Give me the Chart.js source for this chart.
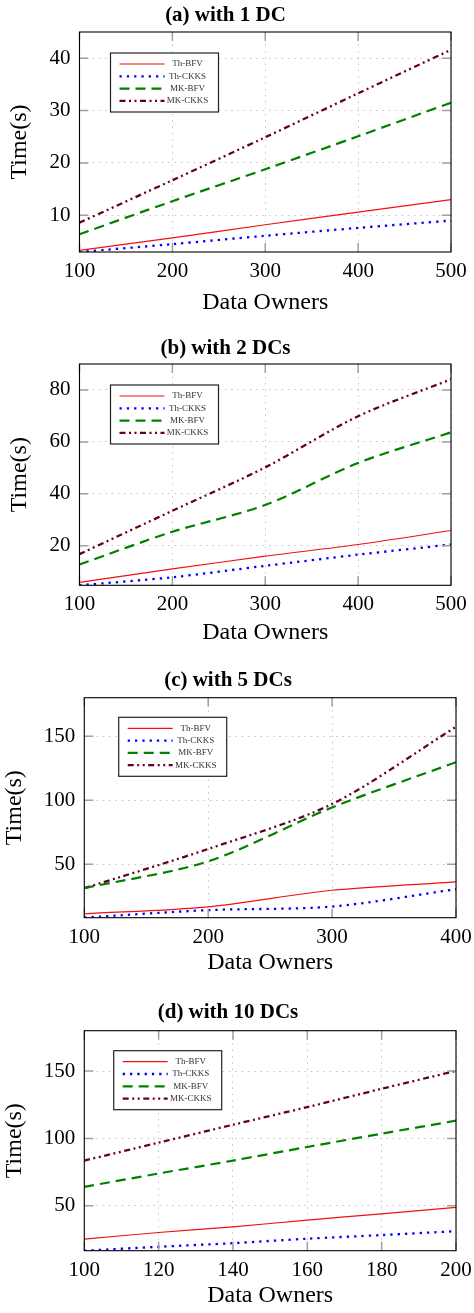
<!DOCTYPE html>
<html>
<head>
<meta charset="utf-8">
<script src="https://cdn.jsdelivr.net/npm/chart.js@4.4.0/dist/chart.umd.min.js"></script>
<style>
  body { margin: 0; background: #fff; }
  .panel { position: absolute; left: 0; width: 474px; }
</style>
</head>
<body>
<div class="panel" style="top:0"><canvas id="chartA" width="474" height="320"></canvas></div>
<div class="panel" style="top:320px"><canvas id="chartB" width="474" height="330"></canvas></div>
<div class="panel" style="top:650px"><canvas id="chartC" width="474" height="330"></canvas></div>
<div class="panel" style="top:980px"><canvas id="chartD" width="474" height="333"></canvas></div>
<script>
// series names
const seriesNames = ["Th-BFV", "Th-CKKS", "MK-BFV", "MK-CKKS"];

// (a) with 1 DC
const ownersA = [100, 200, 300, 400, 500];
const thBfvA = [3.3, 5.7, 8.2, 10.6, 13.0];
const thCkksA = [3.0, 4.5, 6.1, 7.6, 9.0];
const mkBfvA = [6.4, 12.7, 18.8, 25.1, 31.5];
const mkCkksA = [8.6, 16.7, 24.9, 33.3, 41.6];
const yRangeA = [3, 45];

// (b) with 2 DCs
const ownersB = [100, 200, 300, 400, 500];
const thBfvB = [5.9, 11.1, 16.0, 20.5, 25.9];
const thCkksB = [4.8, 7.9, 12.3, 16.6, 20.5];
const mkBfvB = [12.8, 25.4, 35.7, 51.9, 63.7];
const mkCkksB = [16.8, 33.5, 50.2, 69.9, 84.1];
const yRangeB = [4.8, 90];

// (c) with 5 DCs
const ownersC = [100, 200, 300, 400];
const thBfvC = [11.4, 16.9, 29.8, 36.3];
const thCkksC = [8.5, 14.3, 17.1, 30.6];
const mkBfvC = [31.4, 52.4, 94.4, 129.7];
const mkCkksC = [31.4, 62.0, 97.1, 157.3];
const yRangeC = [8.4, 180];

// (d) with 10 DCs
const ownersD = [100, 120, 140, 160, 180, 200];
const thBfvD = [25.3, 30.2, 34.4, 39.4, 44.1, 48.8];
const thCkksD = [16.7, 19.6, 22.3, 25.6, 28.3, 31.2];
const mkBfvD = [64.1, 74.0, 83.6, 93.7, 103.6, 113.2];
const mkCkksD = [83.6, 96.9, 110.2, 123.3, 136.9, 150.2];
const yRangeD = [16.7, 180];

// line look for each series
const lineStyles = [
  { color: "#ee1111", width: 1.2, dash: [] },
  { color: "#0000ff", width: 2.3, dash: [2.3, 5] },
  { color: "#008000", width: 2.2, dash: [10, 6] },
  { color: "#660022", width: 2.3, dash: [6, 3.5, 2, 3.5, 2, 3.5] },
];

const SERIF = '"Liberation Serif", "DejaVu Serif", serif';
Chart.defaults.font.family = SERIF;
Chart.defaults.color = "#000";

// box + inside tick marks like pgfplots
const framePlugin = {
  id: "frame",
  afterDraw(chart) {
    const { ctx, chartArea: a } = chart;
    const xs = chart.scales.x, ys = chart.scales.y;
    ctx.save();
    ctx.strokeStyle = "#a0a0a0";
    ctx.lineWidth = 1.5;
    ctx.beginPath();
    xs.ticks.forEach((t) => {
      const px = xs.getPixelForValue(t.value);
      ctx.moveTo(px, a.bottom); ctx.lineTo(px, a.bottom - 9);
      ctx.moveTo(px, a.top); ctx.lineTo(px, a.top + 9);
    });
    ys.ticks.forEach((t) => {
      const py = ys.getPixelForValue(t.value);
      ctx.moveTo(a.left, py); ctx.lineTo(a.left + 9, py);
      ctx.moveTo(a.right, py); ctx.lineTo(a.right - 9, py);
    });
    ctx.stroke();
    ctx.strokeStyle = "#000";
    ctx.lineWidth = 1.1;
    ctx.strokeRect(a.left, a.top, a.right - a.left, a.bottom - a.top);
    ctx.restore();
  },
};

// boxed legend inside the plot area
const boxLegend = {
  id: "boxLegend",
  afterDraw(chart, args, opts) {
    const { ctx, chartArea } = chart;
    const x0 = chartArea.left + opts.dx, y0 = chartArea.top + opts.dy;
    ctx.save();
    ctx.fillStyle = "#fff";
    ctx.fillRect(x0, y0, 108, 59);
    ctx.strokeStyle = "#222";
    ctx.lineWidth = 1.2;
    ctx.strokeRect(x0, y0, 108, 59);
    chart.data.datasets.forEach((ds, i) => {
      const y = y0 + 11 + i * 12.3;
      ctx.beginPath();
      ctx.setLineDash(ds.borderDash);
      ctx.strokeStyle = ds.borderColor;
      ctx.lineWidth = ds.borderWidth;
      ctx.moveTo(x0 + 9, y);
      ctx.lineTo(x0 + 54, y);
      ctx.stroke();
      ctx.setLineDash([]);
      ctx.fillStyle = "#333";
      ctx.font = "9px " + SERIF;
      ctx.textAlign = "center";
      ctx.textBaseline = "middle";
      ctx.fillText(ds.label, x0 + 77, y);
    });
    ctx.restore();
  },
};

const panels = [
  { id: "chartA", title: "(a) with 1 DC", owners: ownersA, series: [thBfvA, thCkksA, mkBfvA, mkCkksA],
    yRange: yRangeA, yStep: 10, xStep: 100, left: 79.5, right: 23, xHeight: 68, titlePad: [2.5, 4.3], yTitlePad: 6, legend: [31, 21] },
  { id: "chartB", title: "(b) with 2 DCs", owners: ownersB, series: [thBfvB, thCkksB, mkBfvB, mkCkksB],
    yRange: yRangeB, yStep: 20, xStep: 100, left: 79.5, right: 23, xHeight: 64.7, titlePad: [15.5, 3.3], yTitlePad: 6, legend: [31, 21] },
  { id: "chartC", title: "(c) with 5 DCs", owners: ownersC, series: [thBfvC, thCkksC, mkBfvC, mkCkksC],
    yRange: yRangeC, yStep: 50, xStep: 100, left: 84.3, right: 18, xHeight: 62.3, titlePad: [17.5, 5], yTitlePad: 1, legend: [34.4, 19.6] },
  { id: "chartD", title: "(d) with 10 DCs", owners: ownersD, series: [thBfvD, thCkksD, mkBfvD, mkCkksD],
    yRange: yRangeD, yStep: 50, xStep: 20, left: 84.3, right: 18, xHeight: 62.3, titlePad: [20, 5.5], yTitlePad: 1, legend: [29.4, 20] },
];

panels.forEach((p) => {
  const datasets = p.series.map((vals, i) => ({
    label: seriesNames[i],
    data: p.owners.map((x, j) => ({ x: x, y: vals[j] })),
    borderColor: lineStyles[i].color,
    borderWidth: lineStyles[i].width,
    borderDash: lineStyles[i].dash,
    pointRadius: 0,
    fill: false,
    tension: 0.3,
  }));

  new Chart(document.getElementById(p.id), {
    type: "line",
    data: { datasets: datasets },
    plugins: [framePlugin, boxLegend],
    options: {
      responsive: false,
      animation: false,
      devicePixelRatio: 1,
      layout: { padding: { left: 0, right: p.right, top: 0, bottom: 0 } },
      plugins: {
        legend: { display: false },
        tooltip: { enabled: false },
        title: {
          display: true,
          text: p.title,
          color: "#000",
          font: { size: 21, weight: "bold" },
          padding: { top: p.titlePad[0], bottom: p.titlePad[1] },
        },
        boxLegend: { dx: p.legend[0], dy: p.legend[1] },
      },
      scales: {
        x: {
          type: "linear",
          min: p.owners[0],
          max: p.owners[p.owners.length - 1],
          ticks: { stepSize: p.xStep, font: { size: 21 }, color: "#000", padding: 7, maxRotation: 0, autoSkip: false },
          grid: { color: "#c4c4c4", lineWidth: 1, drawTicks: false },
          border: { display: false, dash: [1.5, 4.8] },
          title: { display: true, text: "Data Owners", font: { size: 24 }, color: "#000", padding: { top: 0, bottom: 3 } },
          afterFit(scale) {
            scale.height = p.xHeight;
            scale.paddingLeft = 0;
            scale.paddingRight = 0;
          },
        },
        y: {
          type: "linear",
          min: p.yRange[0],
          max: p.yRange[1],
          ticks: { stepSize: p.yStep, includeBounds: false, font: { size: 21 }, color: "#000", padding: 9 },
          grid: { color: "#c4c4c4", lineWidth: 1, drawTicks: false },
          border: { display: false, dash: [1.5, 4.8] },
          title: { display: true, text: "Time(s)", font: { size: 24 }, color: "#000", padding: { top: p.yTitlePad - 0.5, bottom: 0 } },
          afterFit(scale) {
            scale.width = p.left;
            scale.paddingTop = 0;
            scale.paddingBottom = 0;
          },
        },
      },
    },
  });
});
</script>
</body>
</html>
